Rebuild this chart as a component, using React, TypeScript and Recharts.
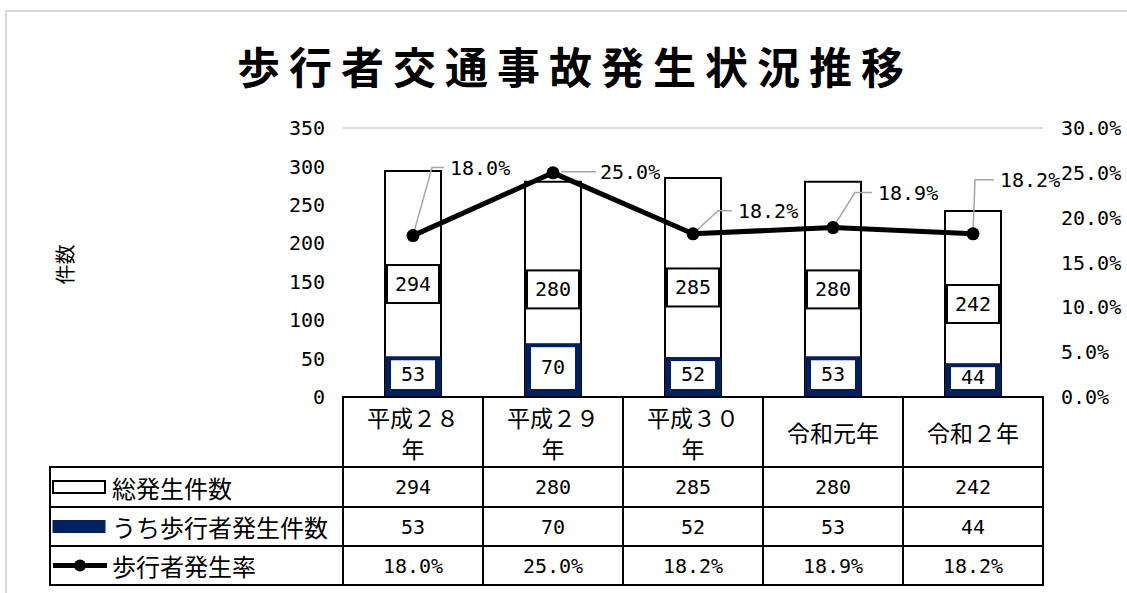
import React from 'react';
import { ComposedChart, Bar, Line, XAxis, YAxis, CartesianGrid, LabelList } from 'recharts';

const categories = ['平成２８年', '平成２９年', '平成３０年', '令和元年', '令和２年'];
const totalCounts = [294, 280, 285, 280, 242];
const pedestrianCounts = [53, 70, 52, 53, 44];
const pedestrianRates = [18.0, 25.0, 18.2, 18.9, 18.2];
const leftTicks = [0, 50, 100, 150, 200, 250, 300, 350];
const rightTicks = [0, 5, 10, 15, 20, 25, 30];
const seriesNames = ['総発生件数', 'うち歩行者発生件数', '歩行者発生率'];

const data = categories.map((name, i) => ({
  name,
  total: totalCounts[i],
  pedestrian: pedestrianCounts[i],
  rate: pedestrianRates[i],
}));

const W = 1127;
const H = 593;
const PLOT_LEFT = 343;
const PLOT_RIGHT = 1043;
const PLOT_TOP = 128;
const PLOT_BOTTOM = 397;
const COL_W = (PLOT_RIGHT - PLOT_LEFT) / categories.length;
const LEGEND_LEFT = 50;
const ROW_H = [70, 40, 39, 39];

const NAVY = '#002060';
const JP = "'Noto Sans CJK JP', 'Noto Sans', sans-serif";
const NUM = "'DejaVu Sans Mono', monospace";

// label position for each rate point: [text dx, dy, elbow dx]
const RATE_LABEL_POS = [
  [37, -68, 19],
  [47, -1, 0],
  [45, -23, 25],
  [45, -35, 22],
  [27, -54, 2],
];

const fmtRate = (v: number) => `${v.toFixed(1)}%`;

function splitName(name: string) {
  return name.length > 4 ? [name.slice(0, 4), name.slice(4)] : [name];
}

function TableTick(props: any) {
  const { x, y, payload } = props;
  const i = categories.indexOf(payload.value);
  const left = x - COL_W / 2;
  const rowTops = ROW_H.map((_, k) => y + ROW_H.slice(0, k).reduce((a, b) => a + b, 0));
  const values = [String(totalCounts[i]), String(pedestrianCounts[i]), fmtRate(pedestrianRates[i])];
  const lines = splitName(payload.value);
  const legendW = PLOT_LEFT - LEGEND_LEFT;
  return (
    <g>
      <rect x={left} y={rowTops[0]} width={COL_W} height={ROW_H[0]} fill="#fff" stroke="#000" strokeWidth={2} />
      {lines.map((t, k) => (
        <text
          key={k}
          x={x}
          y={rowTops[0] + ROW_H[0] / 2 + (lines.length === 1 ? 0 : k === 0 ? -15 : 16)}
          textAnchor="middle"
          dominantBaseline="central"
          fontFamily={JP}
          fontSize={23}
          fill="#000"
        >
          {t}
        </text>
      ))}
      {values.map((v, k) => (
        <g key={k}>
          <rect x={left} y={rowTops[k + 1]} width={COL_W} height={ROW_H[k + 1]} fill="#fff" stroke="#000" strokeWidth={2} />
          <text
            x={x}
            y={rowTops[k + 1] + ROW_H[k + 1] / 2}
            textAnchor="middle"
            dominantBaseline="central"
            fontFamily={NUM}
            fontSize={20}
            fill="#000"
          >
            {v}
          </text>
        </g>
      ))}
      {i === 0 &&
        seriesNames.map((s, k) => {
          const top = rowTops[k + 1];
          const cy = top + ROW_H[k + 1] / 2;
          const lx = LEGEND_LEFT + 3;
          return (
            <g key={s}>
              <rect x={LEGEND_LEFT} y={top} width={legendW} height={ROW_H[k + 1]} fill="#fff" stroke="#000" strokeWidth={2} />
              {k === 0 && <rect x={lx} y={cy - 6} width={52} height={12} fill="#fff" stroke="#000" strokeWidth={2} />}
              {k === 1 && <rect x={lx} y={cy - 6} width={52} height={12} fill={NAVY} stroke={NAVY} strokeWidth={1} />}
              {k === 2 && (
                <g>
                  <line x1={lx} y1={cy} x2={lx + 54} y2={cy} stroke="#000" strokeWidth={5} />
                  <circle cx={lx + 27} cy={cy} r={6} fill="#000" />
                </g>
              )}
              <text x={LEGEND_LEFT + 62} y={cy} dominantBaseline="central" fontFamily={JP} fontSize={24} fill="#000">
                {s}
              </text>
            </g>
          );
        })}
    </g>
  );
}

function PedestrianShape(props: any) {
  const { x, y, width, height } = props;
  return (
    <g>
      <rect x={x} y={y} width={width} height={height} fill={NAVY} />
      <rect x={x + 6} y={y + 4} width={width - 12} height={Math.max(0, height - 12)} fill="#fff" />
    </g>
  );
}

function TotalLabel(props: any) {
  const { x, y, width, height, value } = props;
  const cy = y + height / 2;
  return (
    <g>
      <rect x={x + 2} y={cy - 19} width={width - 4} height={38} fill="#fff" stroke="#000" strokeWidth={2} />
      <text x={x + width / 2} y={cy} textAnchor="middle" dominantBaseline="central" fontFamily={NUM} fontSize={20} fill="#000">
        {value}
      </text>
    </g>
  );
}

function PedestrianLabel(props: any) {
  const { x, y, width, height, value } = props;
  const cy = y + 4 + (height - 12) / 2 - 1;
  return (
    <text x={x + width / 2} y={cy} textAnchor="middle" dominantBaseline="central" fontFamily={NUM} fontSize={20} fill="#000">
      {value}
    </text>
  );
}

function RateLabel(props: any) {
  const { x, y, value, index } = props;
  const [dx, dy, ex] = RATE_LABEL_POS[index];
  const ty = y + dy;
  const path = dy > -5 ? `M${x + 8},${ty} L${x + dx - 4},${ty}` : `M${x},${y} L${x + ex},${ty} L${x + dx - 6},${ty}`;
  return (
    <g>
      <path d={path} fill="none" stroke="#a6a6a6" strokeWidth={1.5} />
      <circle cx={x} cy={y} r={6.5} fill="#000" />
      <text x={x + dx} y={ty} dominantBaseline="central" fontFamily={NUM} fontSize={20} fill="#000">
        {fmtRate(value)}
      </text>
    </g>
  );
}

export default function App() {
  return (
    <div style={{ position: 'absolute', left: 0, top: 0, width: W, height: H, background: '#fff', overflow: 'hidden' }}>
      <div
        style={{
          position: 'absolute',
          left: 5,
          top: 10,
          width: W,
          height: H,
          borderTop: '2px solid #d9d9d9',
          borderLeft: '2px solid #d9d9d9',
        }}
      />
      <div
        style={{
          position: 'absolute',
          left: 0,
          top: 38,
          width: 1150,
          textAlign: 'center',
          fontFamily: JP,
          fontWeight: 700,
          fontSize: 43,
          letterSpacing: 9,
          lineHeight: '54px',
          color: '#000',
        }}
      >
        歩行者交通事故発生状況推移
      </div>
      <div
        style={{
          position: 'absolute',
          left: 44,
          top: 250,
          fontFamily: JP,
          fontSize: 20,
          transform: 'rotate(-90deg)',
          color: '#000',
        }}
      >
        件数
      </div>
      <div style={{ position: 'absolute', left: 0, top: 0 }}>
        <ComposedChart
          width={W}
          height={H}
          data={data}
          margin={{ top: PLOT_TOP, right: 0, bottom: 0, left: 40 }}
          barSize={56}
          barGap={-56}
        >
          <CartesianGrid horizontal vertical={false} stroke="#d9d9d9" strokeWidth={2} />
          <XAxis
            dataKey="name"
            height={H - PLOT_BOTTOM}
            axisLine={false}
            tickLine={false}
            tickSize={0}
            tickMargin={0}
            interval={0}
            tick={<TableTick />}
          />
          <YAxis
            yAxisId="left"
            width={PLOT_LEFT - 40}
            domain={[0, 350]}
            ticks={leftTicks}
            axisLine={false}
            tickLine={false}
            tickMargin={12}
            tick={{ fill: '#000', fontSize: 20, fontFamily: NUM }}
          />
          <YAxis
            yAxisId="right"
            orientation="right"
            width={W - PLOT_RIGHT}
            domain={[0, 30]}
            ticks={rightTicks}
            tickFormatter={fmtRate}
            axisLine={false}
            tickLine={false}
            tickMargin={12}
            tick={{ fill: '#000', fontSize: 20, fontFamily: NUM, textAnchor: 'start' }}
          />
          <Bar yAxisId="left" dataKey="total" fill="#fff" stroke="#000" strokeWidth={2} isAnimationActive={false}>
            <LabelList dataKey="total" content={<TotalLabel />} />
          </Bar>
          <Bar yAxisId="left" dataKey="pedestrian" shape={<PedestrianShape />} isAnimationActive={false}>
            <LabelList dataKey="pedestrian" content={<PedestrianLabel />} />
          </Bar>
          <Line
            yAxisId="right"
            dataKey="rate"
            stroke="#000"
            strokeWidth={5}
            dot={false}
            activeDot={false}
            isAnimationActive={false}
          >
            <LabelList dataKey="rate" content={<RateLabel />} />
          </Line>
        </ComposedChart>
      </div>
    </div>
  );
}
